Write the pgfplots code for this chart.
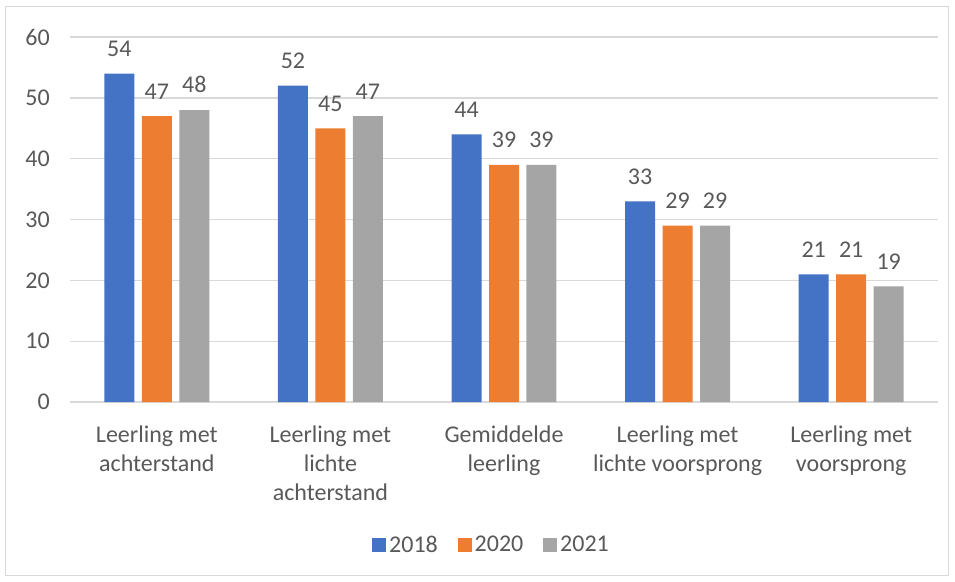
\documentclass[border=0pt]{standalone}
\usepackage{pgfplots}
\pgfplotsset{compat=1.18}
\usepackage{fontspec}
\setmainfont{Carlito}
\definecolor{cblue}{HTML}{4472C4}
\definecolor{corange}{HTML}{ED7D31}
\definecolor{cgray}{HTML}{A5A5A5}
\definecolor{ctext}{HTML}{595959}
\definecolor{cgrid}{HTML}{D9D9D9}
\begin{document}
\begin{tikzpicture}
\path (-52.5pt,-134.25pt) rectangle (663.75pt,301.5pt);
\draw[cgrid, line width=0.75pt] (-48pt,-129.75pt) rectangle (658.5pt,296.25pt);
\begin{axis}[
  at={(0pt,0pt)}, anchor=south west,
  scale only axis,
  width=651pt, height=273.75pt,
  ybar=5.6pt, bar width=22.5pt,
  xmin=-0.5, xmax=4.5,
  ymin=0, ymax=60,
  ytick={0,10,...,60},
  xtick={0,1,2,3,4},
  xticklabels={{Leerling met\\achterstand},{Leerling met\\lichte\\achterstand},{Gemiddelde\\leerling},{Leerling met\\lichte voorsprong},{Leerling met\\voorsprong}},
  xticklabel style={align=center, font=\fontsize{18}{21.75}\selectfont, text=ctext, inner sep=0pt, anchor=north, yshift=-18pt},
  yticklabel style={font=\fontsize{18}{21}\selectfont, text=ctext, inner sep=0pt, anchor=east, xshift=-15pt},
  /pgf/number format/assume math mode=true,
  major tick length=0pt,
  axis line style={draw=none},
  ymajorgrids, grid style={cgrid, line width=1pt},
  nodes near coords,
  every node near coord/.append style={font=\fontsize{18}{21}\selectfont, text=ctext, inner sep=0pt, anchor=south, yshift=12.5pt},
  legend columns=3,
  legend style={at={(0.4862,-0.3918)}, anchor=center, draw=none, font=\fontsize{18}{21}\selectfont, text=ctext,
     nodes={inner sep=0pt, inner xsep=2.2pt},
     /tikz/every even column/.append style={column sep=12.75pt}},
  legend image code/.code={\fill[#1] (0pt,-5.5pt) rectangle (10.5pt,5pt);},
]
\addplot[fill=cblue, draw=none] coordinates {(0,54) (1,52) (2,44) (3,33) (4,21)};
\addplot[fill=corange, draw=none] coordinates {(0,47) (1,45) (2,39) (3,29) (4,21)};
\addplot[fill=cgray, draw=none] coordinates {(0,48) (1,47) (2,39) (3,29) (4,19)};
\legend{2018,2020,2021}
\end{axis}
\end{tikzpicture}
\end{document}
